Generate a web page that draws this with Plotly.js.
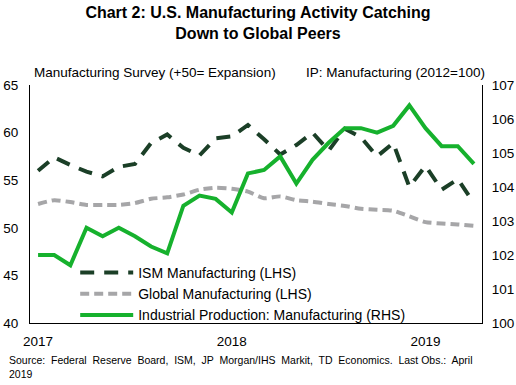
<!DOCTYPE html>
<html>
<head>
<meta charset="utf-8">
<script src="https://cdn.plot.ly/plotly-3.0.1.min.js"></script>
<style>html,body{margin:0;padding:0;background:#fff;}#chart{width:516px;height:385px;}</style>
</head>
<body>
<div id="chart"></div>
<script>
// Months Jan 2017 .. Apr 2019
var months = ["Jan 2017","Feb 2017","Mar 2017","Apr 2017","May 2017","Jun 2017","Jul 2017","Aug 2017","Sep 2017","Oct 2017","Nov 2017","Dec 2017",
              "Jan 2018","Feb 2018","Mar 2018","Apr 2018","May 2018","Jun 2018","Jul 2018","Aug 2018","Sep 2018","Oct 2018","Nov 2018","Dec 2018",
              "Jan 2019","Feb 2019","Mar 2019","Apr 2019"];
var ismManufacturing = [56.0, 57.4, 56.6, 55.9, 55.4, 56.4, 56.7, 58.9, 59.8, 58.4, 57.6, 59.4,
                        59.6, 60.8, 59.3, 57.7, 58.7, 60.0, 58.1, 60.4, 59.5, 57.5, 58.9, 54.3,
                        56.5, 54.0, 55.1, 52.6];
var globalManufacturing = [52.5, 52.9, 52.7, 52.4, 52.4, 52.4, 52.6, 53.05, 53.2, 53.5, 54.0, 54.2,
                           54.1, 53.8, 53.1, 53.3, 52.9, 52.75, 52.5, 52.3, 52.0, 51.9, 51.8, 51.2,
                           50.6, 50.45, 50.35, 50.2];
var ipManufacturing = [102.0, 102.0, 101.7, 102.8, 102.55, 102.8, 102.55, 102.25, 102.05, 103.45, 103.75, 103.65,
                       103.25, 104.4, 104.5, 104.9, 104.1, 104.8, 105.3, 105.73, 105.73, 105.6, 105.8, 106.4,
                       105.73, 105.2, 105.2, 104.68];
var xTickVals = ["Jan 2017", "Jan 2018", "Jan 2019"];
var xTickText = ["2017", "2018", "2019"];
var seriesNames = ["ISM Manufacturing (LHS)", "Global Manufacturing (LHS)", "Industrial Production: Manufacturing (RHS)"];

var FONT = "Arial, 'Liberation Sans', sans-serif";

var traces = [
  {x: months, y: ismManufacturing, name: seriesNames[0], type: "scatter", mode: "lines",
   line: {color: "#1b3f27", width: 4, dash: "14px,10px"}, yaxis: "y"},
  {x: months, y: globalManufacturing, name: seriesNames[1], type: "scatter", mode: "lines",
   line: {color: "#a6a6a8", width: 4, dash: "9px,5px", shape: "spline", smoothing: 0.6}, yaxis: "y"},
  {x: months, y: ipManufacturing, name: seriesNames[2], type: "scatter", mode: "lines",
   line: {color: "#16b12d", width: 4}, yaxis: "y2"}
];

var layout = {
  width: 516, height: 385,
  margin: {l: 30, r: 34, t: 85, b: 62},
  paper_bgcolor: "#fff", plot_bgcolor: "#fff",
  font: {family: FONT, size: 13, color: "#000"},
  title: {text: "<b>Chart 2: U.S. Manufacturing Activity Catching<br>Down to Global Peers</b>",
          font: {family: FONT, size: 16, color: "#000"}, x: 0.5, xanchor: "center", y: 0.953, yanchor: "top"},
  showlegend: true,
  legend: {x: 0.1, y: 0.2774, xanchor: "left", yanchor: "top", bgcolor: "rgba(0,0,0,0)",
           font: {family: FONT, size: 14, color: "#000"}, itemwidth: 53, tracegroupgap: 0},
  xaxis: {type: "category", range: [-0.5, 27.5], tickvals: xTickVals, ticktext: xTickText,
          showgrid: false, zeroline: false, showline: true, linecolor: "#000", linewidth: 1,
          ticks: "", ticklabelstandoff: 6, tickfont: {family: FONT, size: 13.5, color: "#000"}, fixedrange: true},
  yaxis: {range: [40, 65], dtick: 5, showgrid: false, zeroline: false, showline: true,
          linecolor: "#000", linewidth: 1, ticks: "", ticklabelstandoff: 8,
          tickfont: {family: FONT, size: 13.5, color: "#000"}},
  yaxis2: {range: [100, 107], dtick: 1, overlaying: "y", side: "right", showgrid: false, zeroline: false,
           showline: true, linecolor: "#000", linewidth: 1, ticks: "", ticklabelstandoff: 6,
           tickfont: {family: FONT, size: 13.5, color: "#000"}},
  annotations: [
    {text: "Manufacturing Survey (+50= Expansion)", xref: "paper", yref: "paper", x: 0.005, y: 1.052,
     xanchor: "left", yanchor: "middle", showarrow: false, font: {family: FONT, size: 13.5, color: "#000"}},
    {text: "IP: Manufacturing (2012=100)", xref: "paper", yref: "paper", x: 1.012, y: 1.052,
     xanchor: "right", yanchor: "middle", showarrow: false, font: {family: FONT, size: 13.5, color: "#000"}},
    {text: "Source:  Federal  Reserve  Board,  ISM,  JP  Morgan/IHS  Markit,  TD  Economics.  Last Obs.:  April<br>2019",
     xref: "paper", yref: "paper", x: -0.051, y: -0.12, xanchor: "left", yanchor: "top", align: "left",
     showarrow: false, font: {family: FONT, size: 10.5, color: "#000"}}
  ]
};

Plotly.newPlot("chart", traces, layout, {staticPlot: true, displayModeBar: false});
</script>
</body>
</html>
